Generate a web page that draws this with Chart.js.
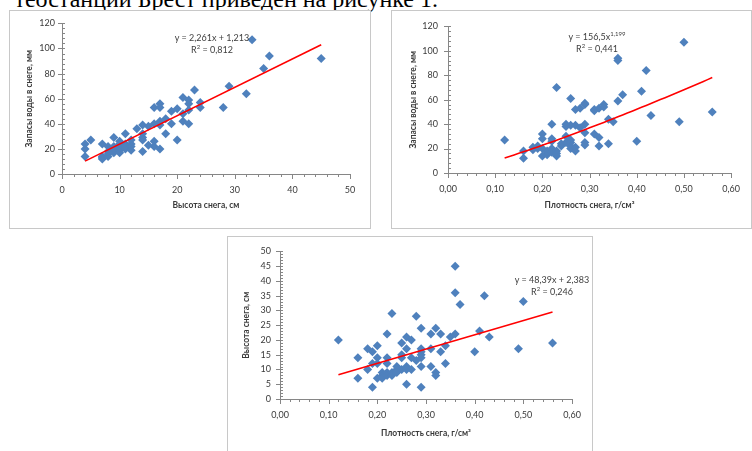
<!DOCTYPE html>
<html>
<head>
<meta charset="utf-8">
<script src="https://cdn.jsdelivr.net/npm/chart.js@4.4.1/dist/chart.umd.min.js"></script>
<style>
  html, body { margin:0; padding:0; background:#fff; }
  body { width:752px; height:451px; position:relative; overflow:hidden; font-family:Lato, "Liberation Sans", sans-serif; }
  .top-text { position:absolute; right:314px; top:-13px; font:24px/24px "Liberation Serif", "DejaVu Serif", serif; color:#000; white-space:nowrap; }
  .box { position:absolute; border:1px solid #c8c8c8; box-sizing:border-box; background:#fff; }
  .box canvas { position:absolute; left:0; top:0; }
  .eq { position:absolute; font-size:9px; line-height:12px; color:#404040; text-align:center; white-space:nowrap; transform:translateX(-50%); }
  .eq sup { font-size:6px; vertical-align:4px; line-height:0; }
</style>
</head>
<body>
<div class="top-text">теостанции Брест приведен на рисунке 1.</div>

<div class="box" style="left:9px;top:10px;width:362px;height:219px"><canvas id="c1" width="360" height="217"></canvas></div>
<div class="box" style="left:391px;top:10px;width:361px;height:219px"><canvas id="c2" width="359" height="217"></canvas></div>
<div class="box" style="left:227px;top:236px;width:366px;height:230px"><canvas id="c3" width="364" height="228"></canvas></div>

<div class="eq" style="left:212px;top:32px">y = 2,261x + 1,213<br>R<sup>2</sup> = 0,812</div>
<div class="eq" style="left:597px;top:31px">y = 156,5x<sup>1,199</sup><br>R<sup>2</sup> = 0,441</div>
<div class="eq" style="left:552px;top:274px">y = 48,39x + 2,383<br>R<sup>2</sup> = 0,246</div>

<script>
// снег: высота (см) -> запасы воды (мм)
const heightWater = [
  [4,24],[4,20],[4,14],[5,27],[7,24],[7,14],[7,12],[7,13],[8,14],[8,16],[8,22],[8,18],
  [9,29],[9,22],[9,19],[9,17],[9,20],[10,26],[10,24],[10,19],[10,17],[10,21],[11,32],[11,24],
  [11,20],[11,22],[12,27],[12,24],[12,22],[12,19],[13,36],[14,39],[14,32],[14,29],[14,27],[14,18],
  [15,38],[15,23],[16,40],[16,53],[16,26],[16,22],[17,56],[17,53],[17,42],[17,39],[17,20],[18,44],
  [18,32],[19,50],[19,40],[20,52],[20,27],[21,61],[21,48],[21,42],[22,59],[22,56],[22,51],[22,40],
  [23,67],[24,57],[24,53],[28,53],[29,70],[32,64],[33,107],[35,84],[36,94],[45,92]
];
// плотность (г/см3) -> запасы воды (мм)
const densityWater = [
  [0.12,27],[0.16,18],[0.16,12],[0.18,19],[0.18,21],[0.19,22],[0.19,20],[0.20,32],[0.20,28],[0.20,20],
  [0.20,14],[0.21,18],[0.21,15],[0.21,17],[0.22,40],[0.22,28],[0.22,26],[0.22,20],[0.22,17],[0.23,70],
  [0.23,18],[0.23,14],[0.23,16],[0.24,22],[0.24,24],[0.25,40],[0.25,38],[0.25,30],[0.25,25],[0.26,61],
  [0.26,39],[0.26,27],[0.26,25],[0.26,22],[0.26,20],[0.27,52],[0.27,39],[0.27,18],[0.27,21],[0.28,53],
  [0.28,37],[0.29,57],[0.29,56],[0.29,40],[0.29,33],[0.29,25],[0.29,23],[0.31,52],[0.31,51],[0.31,32],
  [0.32,53],[0.32,29],[0.32,22],[0.33,56],[0.33,54],[0.34,44],[0.34,24],[0.35,42],[0.36,94],[0.36,92],
  [0.36,59],[0.37,64],[0.40,26],[0.41,67],[0.42,84],[0.43,47],[0.49,42],[0.50,107],[0.56,50]
];
// плотность (г/см3) -> высота (см)
const densityHeight = [
  [0.12,20],[0.16,14],[0.16,7],[0.18,17],[0.18,10],[0.19,16],[0.19,12],[0.19,4],[0.20,18],[0.20,14],
  [0.20,12],[0.20,7],[0.21,9],[0.21,8],[0.21,7],[0.22,22],[0.22,14],[0.22,12],[0.22,9],[0.22,8],
  [0.23,29],[0.23,9],[0.23,8],[0.24,11],[0.24,10],[0.24,9],[0.25,19],[0.25,15],[0.25,14],[0.25,10],
  [0.26,21],[0.26,17],[0.26,11],[0.26,10],[0.26,5],[0.27,20],[0.27,14],[0.27,10],[0.28,28],[0.28,13],
  [0.29,24],[0.29,17],[0.29,16],[0.29,15],[0.29,14],[0.29,11],[0.29,4],[0.31,22],[0.31,17],[0.31,11],
  [0.32,24],[0.32,9],[0.32,8],[0.33,22],[0.33,16],[0.34,18],[0.34,12],[0.35,21],[0.36,45],[0.36,36],
  [0.36,22],[0.37,32],[0.40,16],[0.41,23],[0.42,35],[0.43,21],[0.49,17],[0.50,33],[0.56,19]
];

// уравнения линий тренда (с графиков)
const fitHW = { k:2.261, b:1.213, from:4, to:45 };
const fitDW = { a:156.5, p:1.199, from:0.12, to:0.56 };
const fitDH = { k:48.39, b:2.383, from:0.12, to:0.56 };

const TXT = '#3a3a3a', AX = '#868686', BLUE = '#4F81BD';

function linFit(f) {
  return [f.from, f.to].map(x => ({ x, y: f.k * x + f.b }));
}
function powFit(f) {
  const pts = [];
  for (let i = 0; i <= 44; i++) { const x = f.from + (f.to - f.from) * i / 44; pts.push({ x, y: f.a * Math.pow(x, f.p) }); }
  return pts;
}

// малые деления осей как в Excel
const minorTicks = {
  id: 'minorTicks',
  afterDraw(chart) {
    const ctx = chart.ctx, a = chart.chartArea;
    ctx.save(); ctx.strokeStyle = AX; ctx.lineWidth = 1;
    const sx = chart.scales.x, sy = chart.scales.y;
    const mx = sx.options.minorStep, my = sy.options.minorStep;
    const nx = Math.round((sx.max - sx.min) / mx), ny = Math.round((sy.max - sy.min) / my);
    ctx.beginPath();
    for (let i = 0; i <= nx; i++) {
      const px = Math.round(sx.getPixelForValue(sx.min + i * mx)) + 0.5;
      const len = i % 5 === 0 ? 5 : 3;
      ctx.moveTo(px, a.bottom); ctx.lineTo(px, a.bottom + len);
    }
    for (let i = 0; i <= ny; i++) {
      const py = Math.round(sy.getPixelForValue(sy.min + i * my)) + 0.5;
      if (i % 5 === 0) { ctx.moveTo(a.left - 4, py); ctx.lineTo(a.left + 3, py); }
      else { ctx.moveTo(a.left, py); ctx.lineTo(a.left + 3, py); }
    }
    ctx.stroke(); ctx.restore();
  }
};

function makeChart(id, o) {
  const font = { family: 'Lato, "Liberation Sans", sans-serif', size: 9 };
  const bold = { family: 'Lato, "Liberation Sans", sans-serif', size: 8.5, weight: 'bold' };
  new Chart(document.getElementById(id), {
    type: 'scatter',
    data: { datasets: [
      { data: o.fit, type: 'line', borderColor: '#FF0000', borderWidth: 1.6, pointRadius: 0, fill: false, order: 0 },
      { data: o.points.map(p => ({ x: p[0], y: p[1] })), pointStyle: 'rectRot', pointRadius: 4.5,
        backgroundColor: BLUE, borderColor: BLUE, borderWidth: 0, order: 1 }
    ]},
    options: {
      responsive: false, animation: false, events: [],
      layout: { padding: o.pad },
      plugins: { legend: { display: false }, tooltip: { enabled: false } },
      scales: {
        x: { type: 'linear', min: o.x.min, max: o.x.max, minorStep: o.x.step / 5,
          ticks: { stepSize: o.x.step, color: TXT, font, padding: o.x.pad, maxRotation: 0, callback: o.x.fmt },
          grid: { display: false, drawTicks: false }, border: { color: AX, width: 1 },
          title: { display: true, text: o.x.title, color: TXT, font: bold, padding: { top: 0, bottom: o.x.tpad } },
          afterFit: s => { s.height = o.x.h; } },
        y: { type: 'linear', min: o.y.min, max: o.y.max, minorStep: o.y.step / 5,
          ticks: { stepSize: o.y.step, color: TXT, font, padding: o.y.pad },
          grid: { display: false, drawTicks: false }, border: { color: AX, width: 1 },
          title: { display: true, text: o.y.title, color: TXT, font: bold, padding: { top: o.y.tpad, bottom: 0 } },
          afterFit: s => { s.width = o.y.w; } }
      }
    },
    plugins: [minorTicks]
  });
}

const dec2 = v => v.toFixed(2).replace('.', ',');

makeChart('c1', {
  points: heightWater, fit: linFit(fitHW), pad: { left: 0, top: 11, right: 20, bottom: 0 },
  x: { min: 0, max: 50, step: 10, title: 'Высота снега, см', h: 54, pad: 11, tpad: 18 },
  y: { min: 0, max: 120, step: 20, title: 'Запасы воды в снеге, мм', w: 52, pad: 7, tpad: 14 }
});
makeChart('c2', {
  points: densityWater, fit: powFit(fitDW), pad: { left: 0, top: 10, right: 13, bottom: 0 },
  x: { min: 0, max: 0.6, step: 0.1, fmt: dec2, title: 'Плотность снега, г/см³', h: 55, pad: 11, tpad: 18 },
  y: { min: 0, max: 120, step: 20, title: 'Запасы воды в снеге, мм', w: 56, pad: 10, tpad: 16 }
});
makeChart('c3', {
  points: densityHeight, fit: linFit(fitDH), pad: { left: 0, top: 10, right: 20, bottom: 0 },
  x: { min: 0, max: 0.6, step: 0.1, fmt: dec2, title: 'Плотность снега, г/см³', h: 66, pad: 11, tpad: 27 },
  y: { min: 0, max: 50, step: 5, title: 'Высота снега, см', w: 52, pad: 9, tpad: 13 }
});
</script>
</body>
</html>
